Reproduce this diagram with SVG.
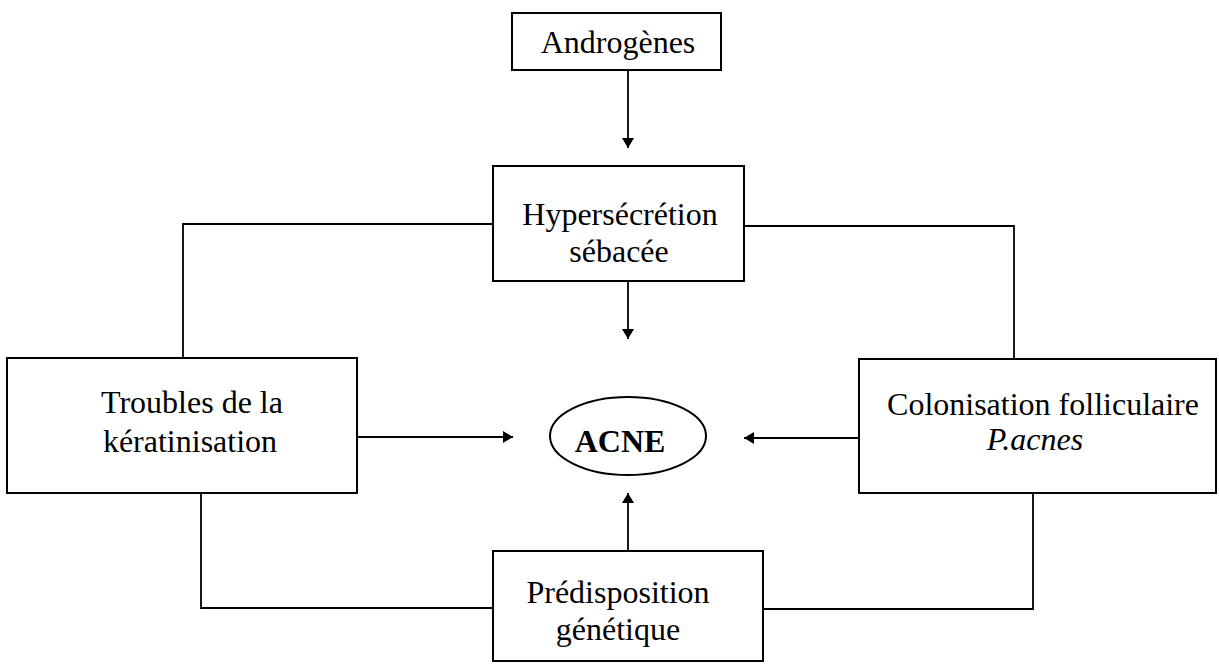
<svg xmlns="http://www.w3.org/2000/svg" width="1219" height="665" viewBox="0 0 1219 665">
<style>
.box{fill:#fff;stroke:#000;stroke-width:2}
.ln{fill:none;stroke:#000;stroke-width:1.8}
.t{font-family:"Liberation Serif","Times New Roman",serif;font-size:32px;fill:#000;text-anchor:middle}
</style>
<defs>
<marker id="ah" markerUnits="userSpaceOnUse" markerWidth="12" markerHeight="14" refX="10" refY="6.5" orient="auto">
<path d="M0,0.5 L10,6.5 L0,12.5 Z" fill="#000"/>
</marker>
</defs>
<rect width="1219" height="665" fill="#fff"/>
<g id="connectors">
<line class="ln" x1="628" y1="70" x2="628" y2="148" marker-end="url(#ah)"/>
<line class="ln" x1="628" y1="281" x2="628" y2="339" marker-end="url(#ah)"/>
<line class="ln" x1="357" y1="437" x2="513" y2="437" marker-end="url(#ah)"/>
<line class="ln" x1="859" y1="438" x2="744" y2="438" marker-end="url(#ah)"/>
<line class="ln" x1="628" y1="551" x2="628" y2="493" marker-end="url(#ah)"/>
<polyline class="ln" points="493,224 183,224 183,358"/>
<polyline class="ln" points="744,226 1014,226 1014,359"/>
<polyline class="ln" points="201,493 201,608 492,608"/>
<polyline class="ln" points="1033,493 1033,609 763,609"/>
</g>
<g id="androgenes">
<rect class="box" x="512" y="13" width="209" height="57"/>
<text class="t" x="618" y="53">Androgènes</text>
</g>
<g id="hypersecretion">
<rect class="box" x="493" y="166" width="251" height="115"/>
<text class="t" x="620" y="225">Hypersécrétion</text>
<text class="t" x="619" y="262">sébacée</text>
</g>
<g id="troubles">
<rect class="box" x="7" y="358" width="350" height="135"/>
<text class="t" x="192" y="413">Troubles de la</text>
<text class="t" x="190" y="452">kératinisation</text>
</g>
<g id="colonisation">
<rect class="box" x="859" y="359" width="357" height="134"/>
<text class="t" x="1043" y="415">Colonisation folliculaire</text>
<text class="t" x="1035" y="450" font-style="italic">P.acnes</text>
</g>
<g id="acne">
<ellipse class="box" cx="628" cy="436" rx="78" ry="39"/>
<text class="t" x="620" y="452" font-weight="bold">ACNE</text>
</g>
<g id="predisposition">
<rect class="box" x="493" y="551" width="270" height="110"/>
<text class="t" x="618" y="603">Prédisposition</text>
<text class="t" x="618" y="640">génétique</text>
</g>
</svg>
